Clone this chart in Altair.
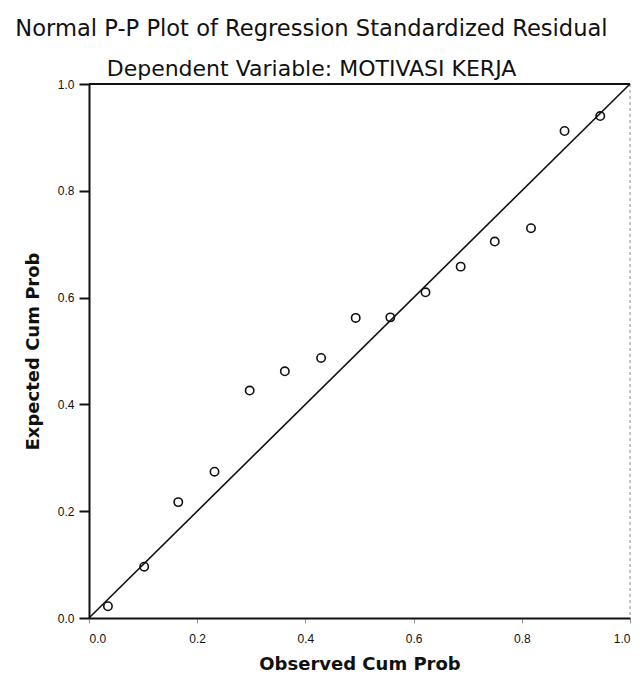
import altair as alt
import pandas as pd

# Values
observed = [0.035, 0.102, 0.165, 0.232, 0.297, 0.362, 0.429, 0.493,
            0.557, 0.622, 0.687, 0.750, 0.817, 0.879, 0.945]
expected = [0.022, 0.096, 0.217, 0.274, 0.426, 0.462, 0.487, 0.562,
            0.563, 0.610, 0.658, 0.705, 0.730, 0.912, 0.940]
ref_line = [0.0, 1.0]
tick_values = [0.0, 0.2, 0.4, 0.6, 0.8, 1.0]
frame_edge = [1.0]

points = pd.DataFrame({"obs": observed, "exp": expected})
line = pd.DataFrame({"obs": ref_line, "exp": ref_line})
edge = pd.DataFrame({"obs": frame_edge, "exp": frame_edge})

INK = "#111111"
LABEL_FONT = "Liberation Sans"
TITLE_FONT = "DejaVu Sans"

xscale = alt.Scale(domain=[0, 1], nice=False, zero=False)
yscale = alt.Scale(domain=[0, 1], nice=False, zero=False)

xaxis = alt.Axis(
    title="Observed Cum Prob", values=tick_values, format=".1f", grid=False,
    labelFont=LABEL_FONT, labelFontSize=12, labelColor=INK, labelPadding=10,
    tickSize=5, tickColor="#9a9a9a", tickWidth=1,
    domainColor=INK, domainWidth=2,
    titleFont=TITLE_FONT, titleFontSize=18, titleFontWeight="bold",
    titleColor=INK, titlePadding=11,
)
yaxis = alt.Axis(
    title="Expected Cum Prob", values=tick_values, format=".1f", grid=False,
    labelFont=LABEL_FONT, labelFontSize=12, labelColor=INK, labelPadding=5,
    tickSize=10, tickColor=INK, tickWidth=2,
    domainColor=INK, domainWidth=2,
    titleFont=TITLE_FONT, titleFontSize=18, titleFontWeight="bold",
    titleColor=INK, titlePadding=15,
)

X = alt.X("obs:Q", scale=xscale, axis=xaxis)
Y = alt.Y("exp:Q", scale=yscale, axis=yaxis)

diag = alt.Chart(line).mark_line(color=INK, strokeWidth=1.6).encode(x=X, y=Y)

dots = alt.Chart(points).mark_point(
    shape="circle", filled=False, size=70, color=INK, strokeWidth=1.6, opacity=1
).encode(x=X, y=Y)

top_edge = alt.Chart(edge).mark_rule(color=INK, strokeWidth=2).encode(y=Y)
right_edge = alt.Chart(edge).mark_rule(
    color="#8a8a8a", strokeWidth=1, strokeDash=[3, 3]
).encode(x=X)

chart = alt.layer(top_edge, right_edge, diag, dots).properties(
    width=541,
    height=534,
    autosize=alt.AutoSizeParams(type="none"),
    padding={"left": 81, "top": 76, "right": 6, "bottom": 56},
    background="white",
    title=alt.TitleParams(
        text="Normal P-P Plot of Regression Standardized Residual",
        subtitle="Dependent Variable: MOTIVASI KERJA",
        font=TITLE_FONT, fontSize=22.6, fontWeight="normal", color=INK,
        subtitleFont=TITLE_FONT, subtitleFontSize=22, subtitleColor=INK,
        subtitlePadding=18, anchor="middle", dx=-48, offset=-2,
    ),
).configure_view(stroke=None)

chart.save("out.html", embed_options={"renderer": "svg", "actions": False})
